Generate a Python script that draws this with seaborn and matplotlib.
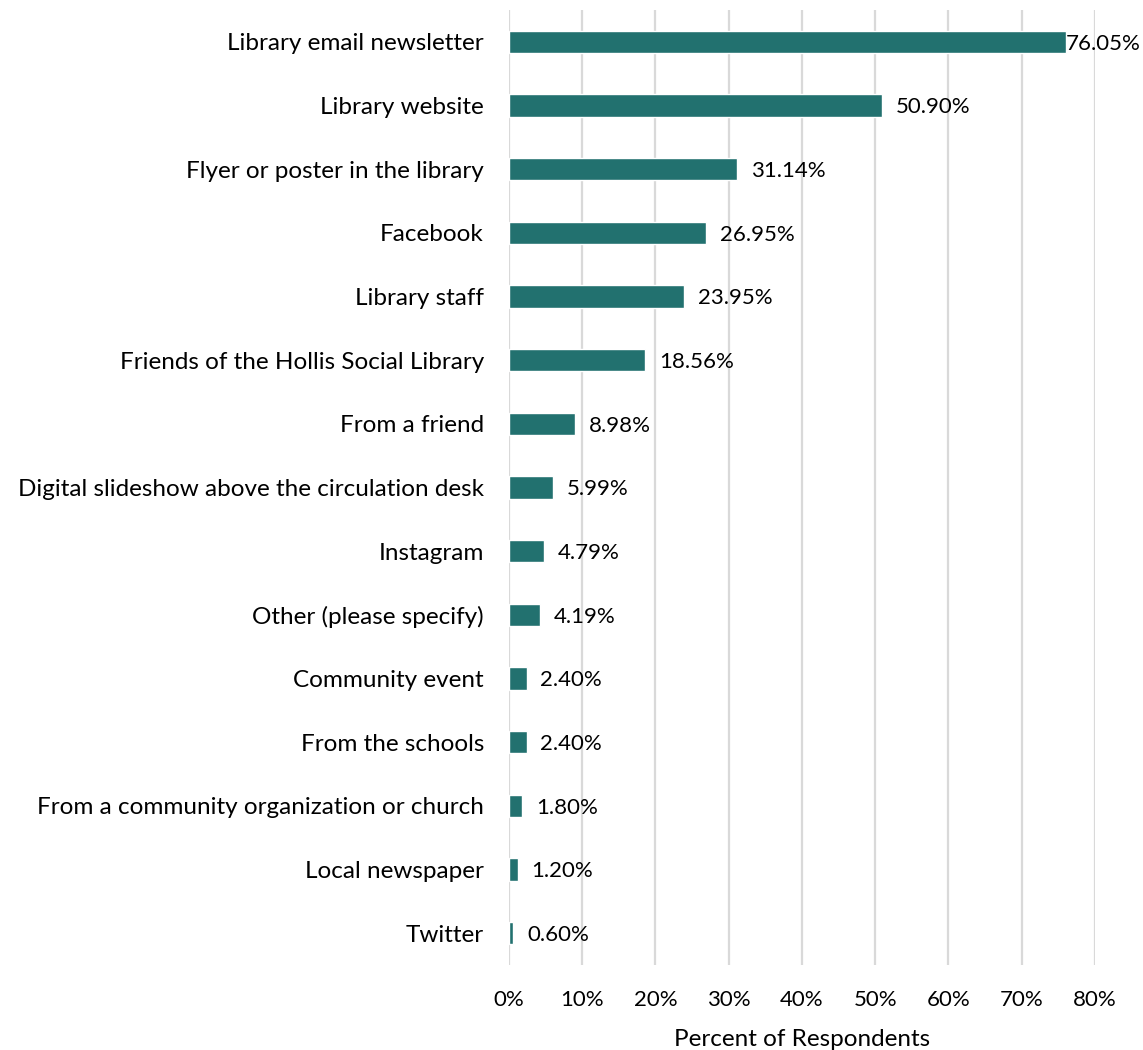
import matplotlib
matplotlib.use("Agg")
import matplotlib.pyplot as plt
import seaborn as sns
import pandas as pd
from matplotlib.ticker import FuncFormatter, MultipleLocator

sources = [
    "Library email newsletter",
    "Library website",
    "Flyer or poster in the library",
    "Facebook",
    "Library staff",
    "Friends of the Hollis Social Library",
    "From a friend",
    "Digital slideshow above the circulation desk",
    "Instagram",
    "Other (please specify)",
    "Community event",
    "From the schools",
    "From a community organization or church",
    "Local newspaper",
    "Twitter",
]
percents = [76.05, 50.90, 31.14, 26.95, 23.95, 18.56, 8.98, 5.99, 4.79, 4.19,
            2.40, 2.40, 1.80, 1.20, 0.60]

df = pd.DataFrame({"Source": sources, "Percent": percents})

sns.set_theme(style="white")
plt.rcParams["font.family"] = ["Lato", "DejaVu Sans"]

fig = plt.figure(figsize=(11.43, 10.5), dpi=100)
ax = fig.add_axes([0.4453, 0.081, 0.958 - 0.4453, 0.9905 - 0.081])

bar_color = "#22716F"
sns.barplot(data=df, x="Percent", y="Source", orient="h", color=bar_color,
            width=0.35, saturation=1, ax=ax, zorder=3)

fs = 17.5      # category labels and axis title
fs_num = 16    # numeric labels
ax.set_xlim(0, 80)
ax.set_ylim(14.5, -0.5)
ax.xaxis.set_major_locator(MultipleLocator(10))
ax.xaxis.set_major_formatter(FuncFormatter(lambda v, _: f"{v:.0f}%"))
ax.grid(axis="x", color="#D9D9D9", linewidth=1.6, zorder=0)
ax.set_axisbelow(True)
for s in ax.spines.values():
    s.set_visible(False)

ax.tick_params(axis="both", length=0, colors="#000000")
ax.tick_params(axis="y", pad=18, labelsize=fs)
ax.tick_params(axis="x", pad=18, labelsize=fs_num)
ax.set_ylabel("")
ax.set_xlabel("Percent of Respondents", fontsize=fs, labelpad=14, color="#000000")

for i, v in enumerate(percents):
    pad = 0.0 if v > 70 else 1.9
    ax.text(v + pad, i, f"{v:.2f}%", va="center_baseline", ha="left",
            fontsize=fs_num, color="#000000")

fig.savefig("out.png", dpi=100)
